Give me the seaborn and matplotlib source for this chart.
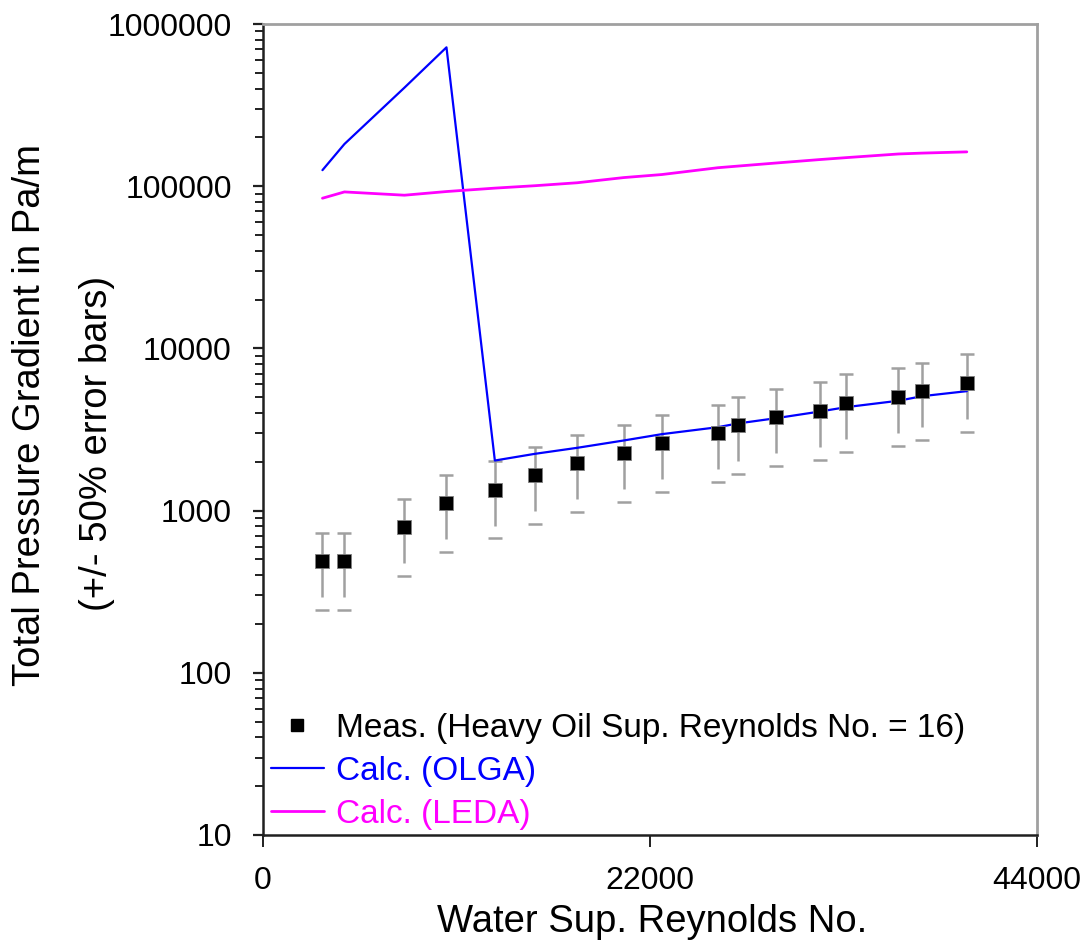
import numpy as np
import pandas as pd
import matplotlib
matplotlib.use("Agg")
import matplotlib.pyplot as plt
from matplotlib.lines import Line2D
from matplotlib.ticker import LogLocator, NullFormatter, FixedLocator
import seaborn as sns

# Water superficial Reynolds number for each test point
re_water = [3380, 4630, 8040, 10430, 13180, 15460, 17860, 20500, 22670,
            25860, 26980, 29170, 31670, 33150, 36120, 37490, 40010]
# Measured total pressure gradient (Pa/m)
dp_meas = [486, 486, 789, 1109, 1348, 1652, 1959, 2258, 2603,
           3001, 3364, 3767, 4125, 4623, 5036, 5450, 6140]
# OLGA prediction (Pa/m)
dp_olga = [125600, 182000, 405000, 718000, 2036, 2239, 2438, 2705, 2960,
           3268, 3444, 3713, 4083, 4343, 4756, 5078, 5450]
# LEDA prediction (Pa/m)
dp_leda = [84300, 92200, 88000, 92700, 97300, 100700, 105000, 113000, 118000,
           130000, 133000, 139000, 146000, 150000, 158000, 160000, 162800]

x_ticks = [0, 22000, 44000]
y_ticks = [10, 100, 1000, 10000, 100000, 1000000]
legend_labels = ["Meas. (Heavy Oil Sup. Reynolds No. = 16)",
                 "Calc. (OLGA)", "Calc. (LEDA)"]
x_label = "Water Sup. Reynolds No."
y_label_1 = "Total Pressure Gradient in Pa/m"
y_label_2 = "(+/- 50% error bars)"

df = pd.DataFrame({"re": re_water, "meas": dp_meas,
                   "olga": dp_olga, "leda": dp_leda})
# +/- 50 % band around each measurement
df["hi"] = 1.5 * df["meas"]
df["lo"] = 0.5 * df["meas"]

sns.set_style("ticks")
plt.rcParams["font.family"] = ["Liberation Sans", "DejaVu Sans"]
plt.rcParams["text.color"] = "black"
plt.rcParams["axes.labelcolor"] = "black"
plt.rcParams["xtick.color"] = "black"
plt.rcParams["ytick.color"] = "black"

fig = plt.figure(figsize=(10.86, 9.51), dpi=100)
ax = fig.add_axes([263 / 1086, 1 - 835 / 951, (1037 - 263) / 1086, (835 - 24) / 951])

BLUE = "#0000ff"
MAGENTA = "#ff00ff"
GREY = "#a0a0a0"

# error bars: stems and caps (the lower stem stops short of its cap)
ax.vlines(df["re"], df["meas"], df["hi"], color=GREY, lw=1.8, zorder=2)
ax.vlines(df["re"], df["lo"] * 1.2, df["meas"], color=GREY, lw=1.8, zorder=2)
ax.scatter(df["re"], df["hi"], marker="_", s=110, color=GREY, lw=1.8, zorder=2)
ax.scatter(df["re"], df["lo"], marker="_", s=110, color=GREY, lw=1.8, zorder=2)

sns.lineplot(data=df, x="re", y="olga", color=BLUE, lw=1.6, ax=ax,
             zorder=3, sort=False)
sns.lineplot(data=df, x="re", y="leda", color=MAGENTA, lw=2.0, ax=ax,
             zorder=3, sort=False)
sns.scatterplot(data=df, x="re", y="meas", marker="s", s=90, color="black",
                edgecolor="#808080", linewidth=0.6, ax=ax, zorder=4)

ax.set_yscale("log")
ax.set_xlim(0, 44000)
ax.set_ylim(10, 1000000)
ax.xaxis.set_major_locator(FixedLocator(x_ticks))
ax.set_xticklabels([str(v) for v in x_ticks])
ax.yaxis.set_major_locator(FixedLocator(y_ticks))
ax.set_yticklabels([str(v) for v in y_ticks])
ax.yaxis.set_minor_locator(LogLocator(base=10, subs=np.arange(2, 10)))
ax.yaxis.set_minor_formatter(NullFormatter())

ax.tick_params(axis="y", which="major", direction="out", length=7.5, width=1.6,
               labelsize=23, pad=15, color="#202020")
ax.tick_params(axis="y", which="minor", direction="out", length=6, width=1.4,
               color="#202020")
ax.tick_params(axis="x", which="major", direction="out", length=8.6, width=1.4,
               labelsize=23, pad=14, color="#202020")

for side in ["left", "bottom"]:
    ax.spines[side].set_color("#202020")
    ax.spines[side].set_linewidth(1.8)
for side in ["top", "right"]:
    ax.spines[side].set_visible(True)
    ax.spines[side].set_color(GREY)
    ax.spines[side].set_linewidth(2.0)

ax.set_xlabel("")
ax.set_ylabel("")
fig.text(652 / 1086, 1 - 922 / 951, x_label, ha="center", va="center",
         fontsize=27.5)
fig.text(30 / 1086, 1 - 415 / 951, y_label_1, ha="center", va="center",
         rotation=90, fontsize=27.5)
fig.text(97 / 1086, 1 - 443 / 951, y_label_2, ha="center", va="center",
         rotation=90, fontsize=27.5)

handles = [
    Line2D([], [], ls="none", marker="s", ms=8, color="black"),
    Line2D([], [], color=BLUE, lw=1.6),
    Line2D([], [], color=MAGENTA, lw=2.0),
]
leg = ax.legend(handles, legend_labels, loc="lower left",
                bbox_to_anchor=(0.01, 0.006), frameon=False, fontsize=24,
                handlelength=1.6, handletextpad=0.35, labelspacing=0.36,
                borderpad=0, borderaxespad=0,
                labelcolor=["black", BLUE, MAGENTA])

fig.savefig("out.png", dpi=100, facecolor="white")
